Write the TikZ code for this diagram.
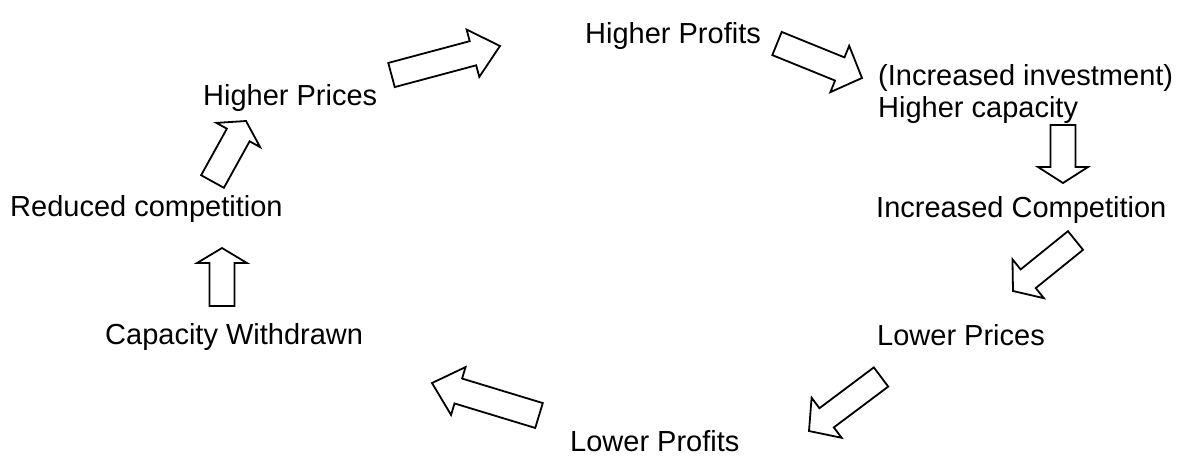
\documentclass[tikz,border=0pt]{standalone}
\usepackage{fontspec}
\setmainfont{Liberation Sans}
\usetikzlibrary{calc}
% #1 tail coord, #2 tip coord, #3 half shaft width, #4 half head width, #5 head length
\newcommand\blockarr[5]{%
  \coordinate (#1h) at ($(#2)!#5!(#1)$);
  \draw[blk] ($(#1)!#3!90:(#2)$) -- ($(#1h)!#3!90:(#2)$) -- ($(#1h)!#4!90:(#2)$)
    -- (#2) -- ($(#1h)!#4!-90:(#2)$) -- ($(#1h)!#3!-90:(#2)$) -- ($(#1)!#3!-90:(#2)$) -- cycle;
}
\begin{document}
\begin{tikzpicture}[x=1pt,y=-1pt,
  blk/.style={draw=black,line width=1.8pt,line join=miter,fill=white},
  lbl/.style={anchor=base west,inner sep=0pt,font=\fontsize{29}{34}\selectfont}]
\useasboundingbox (0,0) rectangle (1178,459);
% labels
\node[lbl] (hprof) at (585,43) {Higher Profits};
\node[lbl] (inv) at (878,85) {(Increased investment)};
\node[lbl] (hcap) at (878,117) {Higher capacity};
\node[lbl] (hpri) at (203,105) {Higher Prices};
\node[lbl] (redc) at (10,216) {Reduced competition};
\node[lbl] (incc) at (876,217) {Increased Competition};
\node[lbl] (capw) at (105,344) {Capacity Withdrawn};
\node[lbl] (lpri) at (877,345) {Lower Prices};
\node[lbl] (lprof) at (570,451) {Lower Profits};
% arrow end points
\coordinate (a1t) at (391.5,75);   \coordinate (a1p) at (500,46);
\coordinate (a2t) at (777,43.5);   \coordinate (a2p) at (862,78);
\coordinate (a3t) at (1063,125);   \coordinate (a3p) at (1063,183);
\coordinate (a4t) at (1075.5,240.5); \coordinate (a4p) at (1013,291);
\coordinate (a5t) at (881,377);    \coordinate (a5p) at (809,431);
\coordinate (a6t) at (539,415.5);  \coordinate (a6p) at (432,383);
\coordinate (a7t) at (222,306);    \coordinate (a7p) at (222,248);
\coordinate (a8t) at (212.5,181.5); \coordinate (a8p) at (246,121);
\blockarr{a1t}{a1p}{12.5pt}{24.5pt}{28pt}
\blockarr{a2t}{a2p}{12.5pt}{25pt}{24pt}
\blockarr{a3t}{a3p}{12.5pt}{25pt}{16pt}
\blockarr{a4t}{a4p}{12pt}{25pt}{19.5pt}
\blockarr{a5t}{a5p}{12pt}{25pt}{22pt}
\blockarr{a6t}{a6p}{13pt}{25pt}{27.5pt}
\blockarr{a7t}{a7p}{12.5pt}{25pt}{15pt}
\blockarr{a8t}{a8p}{13pt}{25pt}{16pt}
\end{tikzpicture}
\end{document}
